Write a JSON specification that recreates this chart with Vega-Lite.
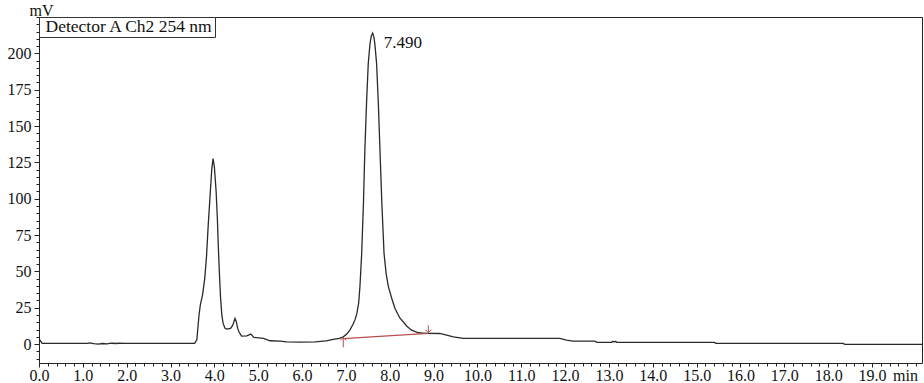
{
  "$schema": "https://vega.github.io/schema/vega-lite/v6.json",
  "width": 883,
  "height": 346,
  "autosize": {"type": "none"},
  "padding": {"left": 39, "top": 17, "right": 2, "bottom": 20},
  "background": "white",
  "config": {
    "view": {"stroke": "#222", "strokeWidth": 1},
    "font": "Liberation Serif, Times New Roman, serif",
    "axis": {"grid": false, "domain": false, "tickColor": "#222", "labelColor": "#111", "labelFont": "Liberation Serif, Times New Roman, serif", "titleFont": "Liberation Serif, Times New Roman, serif", "titleFontWeight": "normal", "titleColor": "#111"}
  },
  "layer": [
    {
      "data": {"values": [
        {"t": 0.0, "mV": 1.5}, {"t": 0.03, "mV": 2.5}, {"t": 0.07, "mV": 0.6}, {"t": 0.5, "mV": 0.5},
        {"t": 1.1, "mV": 0.5}, {"t": 1.15, "mV": 0.9}, {"t": 1.25, "mV": 0.3}, {"t": 1.35, "mV": 0.0},
        {"t": 1.45, "mV": 0.4}, {"t": 1.55, "mV": 0.1}, {"t": 1.65, "mV": 0.6}, {"t": 1.78, "mV": 0.4},
        {"t": 1.8, "mV": 0.7}, {"t": 2.0, "mV": 0.5}, {"t": 3.0, "mV": 0.5}, {"t": 3.55, "mV": 0.6},
        {"t": 3.6, "mV": 3}, {"t": 3.65, "mV": 20}, {"t": 3.68, "mV": 27}, {"t": 3.73, "mV": 33.7},
        {"t": 3.78, "mV": 45}, {"t": 3.82, "mV": 60}, {"t": 3.86, "mV": 82}, {"t": 3.9, "mV": 101},
        {"t": 3.94, "mV": 120}, {"t": 3.97, "mV": 127.6}, {"t": 4.0, "mV": 122}, {"t": 4.04, "mV": 105},
        {"t": 4.07, "mV": 85}, {"t": 4.09, "mV": 66.9}, {"t": 4.12, "mV": 45}, {"t": 4.14, "mV": 32.5},
        {"t": 4.17, "mV": 20}, {"t": 4.2, "mV": 14.2}, {"t": 4.24, "mV": 11}, {"t": 4.28, "mV": 10.3},
        {"t": 4.37, "mV": 10.8}, {"t": 4.42, "mV": 13}, {"t": 4.47, "mV": 17.7}, {"t": 4.5, "mV": 15.5},
        {"t": 4.53, "mV": 11}, {"t": 4.56, "mV": 8.5}, {"t": 4.62, "mV": 5.5}, {"t": 4.74, "mV": 5.7},
        {"t": 4.83, "mV": 6.9}, {"t": 4.9, "mV": 4.6}, {"t": 5.12, "mV": 3.9}, {"t": 5.27, "mV": 2.3},
        {"t": 5.5, "mV": 2.1}, {"t": 5.65, "mV": 1.6}, {"t": 5.95, "mV": 1.3}, {"t": 6.3, "mV": 1.6},
        {"t": 6.55, "mV": 2.2}, {"t": 6.71, "mV": 3.2}, {"t": 6.85, "mV": 4.0}, {"t": 6.94, "mV": 5.0},
        {"t": 7.02, "mV": 7}, {"t": 7.09, "mV": 9.6}, {"t": 7.16, "mV": 13.5}, {"t": 7.21, "mV": 17},
        {"t": 7.25, "mV": 21.1}, {"t": 7.29, "mV": 28}, {"t": 7.32, "mV": 39.4}, {"t": 7.36, "mV": 62.3},
        {"t": 7.4, "mV": 96.7}, {"t": 7.43, "mV": 131}, {"t": 7.47, "mV": 165.4}, {"t": 7.51, "mV": 193},
        {"t": 7.55, "mV": 206.7}, {"t": 7.58, "mV": 212}, {"t": 7.61, "mV": 214}, {"t": 7.64, "mV": 211},
        {"t": 7.66, "mV": 206.7}, {"t": 7.7, "mV": 193}, {"t": 7.74, "mV": 165.4}, {"t": 7.78, "mV": 131},
        {"t": 7.82, "mV": 96.7}, {"t": 7.87, "mV": 62.3}, {"t": 7.92, "mV": 48}, {"t": 7.97, "mV": 39.4},
        {"t": 8.05, "mV": 31}, {"t": 8.12, "mV": 24.5}, {"t": 8.23, "mV": 18}, {"t": 8.39, "mV": 12.3},
        {"t": 8.5, "mV": 9.6}, {"t": 8.65, "mV": 7.8}, {"t": 8.76, "mV": 7.6}, {"t": 8.88, "mV": 7.4},
        {"t": 9.14, "mV": 7.3}, {"t": 9.3, "mV": 6.2}, {"t": 9.45, "mV": 5.0}, {"t": 9.68, "mV": 3.9},
        {"t": 11.88, "mV": 3.9}, {"t": 12.03, "mV": 2.7}, {"t": 12.18, "mV": 2.1}, {"t": 12.68, "mV": 2.1},
        {"t": 12.72, "mV": 1.2}, {"t": 13.06, "mV": 1.2}, {"t": 13.09, "mV": 2.0}, {"t": 13.12, "mV": 1.4},
        {"t": 13.15, "mV": 2.0}, {"t": 13.18, "mV": 1.2}, {"t": 15.4, "mV": 1.2}, {"t": 15.44, "mV": 0.5},
        {"t": 18.34, "mV": 0.5}, {"t": 18.38, "mV": -0.2}, {"t": 20.14, "mV": -0.2}
      ]},
      "mark": {"type": "line", "strokeWidth": 1.3, "interpolate": "linear"},
      "encoding": {
        "x": {"field": "t", "type": "quantitative",
          "scale": {"domain": [0, 20.14], "nice": false, "zero": false},
          "axis": {"orient": "bottom", "values": [0,1,2,3,4,5,6,7,8,9,10,11,12,13,14,15,16,17,18,19], "format": ".1f", "tickSize": 4, "labelPadding": 0, "labelFontSize": 16, "labelFlush": false, "labelOverlap": false,
            "title": "min", "titleFontSize": 16, "titleAnchor": null, "titleAlign": "center", "titleBaseline": "alphabetic", "titleX": 866, "titleY": 17}},
        "y": {"field": "mV", "type": "quantitative",
          "scale": {"domain": [-13, 225], "nice": false, "zero": false},
          "axis": {"orient": "left", "values": [0,25,50,75,100,125,150,175,200], "tickSize": 5, "labelPadding": 3, "labelFontSize": 16, "labelFlush": false, "labelOverlap": false,
            "title": "mV", "titleFontSize": 16, "titleAngle": 0, "titleAnchor": null, "titleAlign": "center", "titleBaseline": "alphabetic", "titleX": 2, "titleY": -2}},
        "color": {"datum": "Detector A Ch2 254 nm", "type": "nominal",
          "scale": {"range": ["#2a2a2a"]},
          "legend": {"orient": "top-left", "offset": 0, "title": null, "padding": 1, "strokeColor": "#333", "fillColor": "white",
            "symbolOpacity": 0, "symbolSize": 0, "symbolStrokeWidth": 0, "labelOffset": -12,
            "labelFont": "Liberation Serif, Times New Roman, serif", "labelFontSize": 17.5, "labelColor": "#111", "labelLimit": 400}}
      }
    },
    {
      "data": {"values": [{"t": 6.94, "mV": 3.8}, {"t": 8.88, "mV": 7.4}]},
      "mark": {"type": "line", "color": "#b5504c", "strokeWidth": 1.2},
      "encoding": {
        "x": {"field": "t", "type": "quantitative",
          "axis": {"orient": "bottom", "title": null, "labels": false, "tickSize": 3,
            "values": [0,0.2,0.4,0.6,0.8,1,1.2,1.4,1.6,1.8,2,2.2,2.4,2.6,2.8,3,3.2,3.4,3.6,3.8,4,4.2,4.4,4.6,4.8,5,5.2,5.4,5.6,5.8,6,6.2,6.4,6.6,6.8,7,7.2,7.4,7.6,7.8,8,8.2,8.4,8.6,8.8,9,9.2,9.4,9.6,9.8,10,10.2,10.4,10.6,10.8,11,11.2,11.4,11.6,11.8,12,12.2,12.4,12.6,12.8,13,13.2,13.4,13.6,13.8,14,14.2,14.4,14.6,14.8,15,15.2,15.4,15.6,15.8,16,16.2,16.4,16.6,16.8,17,17.2,17.4,17.6,17.8,18,18.2,18.4,18.6,18.8,19,19.2,19.4,19.6,19.8,20]}},
        "y": {"field": "mV", "type": "quantitative",
          "axis": {"orient": "left", "title": null, "labels": false, "tickSize": 3,
            "values": [-10,-5,0,5,10,15,20,25,30,35,40,45,50,55,60,65,70,75,80,85,90,95,100,105,110,115,120,125,130,135,140,145,150,155,160,165,170,175,180,185,190,195,200,205,210,215,220,225]}}
      }
    },
    {
      "data": {"values": [{"t": 6.94, "lo": -2.2, "hi": 4.6}, {"t": 8.88, "lo": 7.8, "hi": 13}]},
      "mark": {"type": "rule", "color": "#b5504c", "strokeWidth": 1},
      "encoding": {
        "x": {"field": "t", "type": "quantitative", "axis": null},
        "y": {"field": "lo", "type": "quantitative", "axis": null},
        "y2": {"field": "hi"}
      }
    },
    {
      "data": {"values": [{"t": 6.94, "mV": 4.6}]},
      "mark": {"type": "point", "shape": "M-1,1L0,0L1,1", "filled": false, "color": "#b5504c", "size": 36, "strokeWidth": 1, "opacity": 1},
      "encoding": {
        "x": {"field": "t", "type": "quantitative", "axis": null},
        "y": {"field": "mV", "type": "quantitative", "axis": null}
      }
    },
    {
      "data": {"values": [{"t": 8.88, "mV": 7.8}]},
      "mark": {"type": "point", "shape": "M-1,-1L0,0L1,-1", "filled": false, "color": "#b5504c", "size": 36, "strokeWidth": 1, "opacity": 1},
      "encoding": {
        "x": {"field": "t", "type": "quantitative", "axis": null},
        "y": {"field": "mV", "type": "quantitative", "axis": null}
      }
    },
    {
      "data": {"values": [{"t": 7.61, "mV": 214, "label": "7.490"}]},
      "mark": {"type": "text", "align": "left", "baseline": "top", "dx": 11, "dy": 2, "fontSize": 17, "font": "Liberation Serif, Times New Roman, serif", "color": "#111"},
      "encoding": {
        "x": {"field": "t", "type": "quantitative", "axis": null},
        "y": {"field": "mV", "type": "quantitative", "axis": null},
        "text": {"field": "label"}
      }
    }
  ],
  "resolve": {"axis": {"x": "independent", "y": "independent"}}
}
